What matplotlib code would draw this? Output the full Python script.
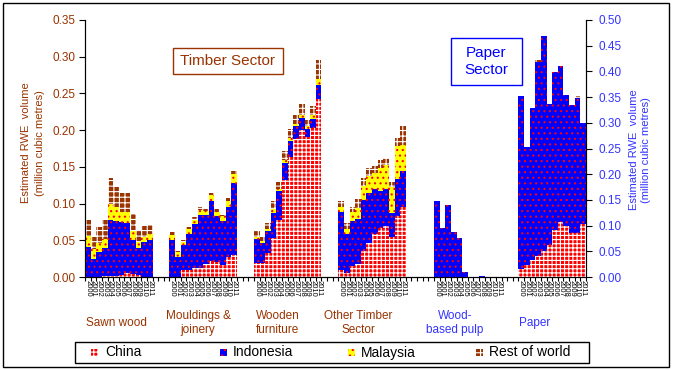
import numpy as np
import matplotlib.pyplot as plt
from matplotlib.patches import Rectangle

plt.rcParams['font.family'] = ['Liberation Sans', 'DejaVu Sans']
plt.rcParams['hatch.linewidth'] = 0.8

# Data (million cubic metres RWE), one row of 12 years per sector
years = [str(y) for y in range(2000, 2012)]
series = ['China', 'Indonesia', 'Malaysia', 'Rest of world']
sectors = ['Sawn wood', 'Mouldings &\njoinery', 'Wooden\nfurniture',
           'Other Timber\nSector', 'Wood-\nbased pulp', 'Paper']

china = [
    [0, 0, 0, 0.001, 0.002, 0.002, 0.003, 0.005, 0.004, 0.003, 0, 0],
    [0, 0, 0.009, 0.009, 0.012, 0.012, 0.018, 0.022, 0.020, 0.017, 0.027, 0.030],
    [0.019, 0.019, 0.033, 0.053, 0.078, 0.132, 0.164, 0.188, 0.200, 0.191, 0.203, 0.242],
    [0.010, 0.006, 0.015, 0.018, 0.035, 0.046, 0.059, 0.067, 0.070, 0.055, 0.083, 0.096],
    [0, 0, 0, 0, 0, 0, 0, 0, 0, 0, 0, 0],
    [0.016, 0.024, 0.033, 0.040, 0.050, 0.062, 0.092, 0.107, 0.099, 0.085, 0.085, 0.104],
]
indonesia = [
    [0.041, 0.025, 0.034, 0.038, 0.076, 0.074, 0.072, 0.069, 0.047, 0.036, 0.047, 0.051],
    [0.050, 0.027, 0.034, 0.050, 0.060, 0.072, 0.066, 0.081, 0.063, 0.059, 0.068, 0.098],
    [0.033, 0.027, 0.029, 0.034, 0.039, 0.023, 0.021, 0.017, 0.017, 0.011, 0.012, 0.020],
    [0.078, 0.053, 0.061, 0.061, 0.070, 0.068, 0.061, 0.050, 0.050, 0.032, 0.050, 0.049],
    [0.147, 0.096, 0.141, 0.088, 0.075, 0.010, 0, 0, 0.0025, 0, 0, 0],
    [0.336, 0.228, 0.295, 0.379, 0.419, 0.274, 0.307, 0.303, 0.255, 0.249, 0.264, 0.195],
]
malaysia = [
    [0.015, 0.013, 0.012, 0.013, 0.021, 0.019, 0.014, 0.015, 0.011, 0.008, 0.008, 0.007],
    [0.007, 0.007, 0.005, 0.007, 0.006, 0.007, 0.006, 0.009, 0.006, 0.007, 0.008, 0.012],
    [0.003, 0.003, 0.004, 0.005, 0.003, 0.005, 0.004, 0.004, 0.003, 0.003, 0.005, 0.008],
    [0.008, 0.006, 0.012, 0.015, 0.019, 0.023, 0.022, 0.032, 0.033, 0.036, 0.046, 0.035],
    [0, 0, 0, 0, 0, 0, 0, 0, 0, 0, 0, 0],
    [0, 0, 0, 0, 0, 0, 0, 0, 0, 0, 0, 0],
]
rest = [
    [0.021, 0.017, 0.022, 0.026, 0.036, 0.027, 0.025, 0.025, 0.024, 0.015, 0.015, 0.013],
    [0.004, 0.001, 0.002, 0.002, 0.004, 0.004, 0.002, 0.003, 0.004, 0.002, 0.005, 0.004],
    [0.008, 0.006, 0.008, 0.011, 0.010, 0.011, 0.012, 0.012, 0.016, 0.010, 0.013, 0.025],
    [0.008, 0.009, 0.007, 0.012, 0.011, 0.012, 0.009, 0.010, 0.009, 0.007, 0.010, 0.025],
    [0, 0, 0, 0, 0, 0, 0, 0, 0, 0, 0, 0],
    [0, 0, 0, 0.003, 0, 0, 0, 0, 0, 0, 0.003, 0],
]
data = [china, indonesia, malaysia, rest]

# styles
face = ['#ff0000', '#0000ff', '#ffff00', '#993300']
hatchc = ['#ffffff', '#ff0000', '#ff0000', '#ffffff']
hatches = ['++++', '...', '...', '+++']
brown = '#993300'
blue = '#3333ff'

W, H = 673, 370
fx = lambda px: px / W
fy = lambda py: 1 - py / H

fig = plt.figure(figsize=(6.73, 3.70), dpi=100, facecolor='w')
ax = fig.add_axes([fx(85), fy(277), (586 - 85) / W, (277 - 20) / H])
ax2 = ax.twinx()

group_start = [0, 15, 30, 45, 62, 77]
on_right = [False, False, False, False, True, True]

centers = []
for g in range(len(sectors)):
    target = ax2 if on_right[g] else ax
    x = group_start[g] + np.arange(12)
    centers += list(x + 0.5)
    bottom = np.zeros(12)
    for s in range(len(series)):
        h = np.array(data[s][g], dtype=float)
        target.bar(x, h, width=1.0, bottom=bottom, align='edge',
                   color=face[s], edgecolor=hatchc[s], hatch=hatches[s],
                   linewidth=0)
        bottom += h

# axes limits and ticks
ax.set_xlim(0, 89)
ax.set_ylim(0, 0.35)
ax2.set_ylim(0, 0.5)
ax.set_xticks(np.arange(0, 90))
ax.set_xticklabels([])
ax.set_xticks(centers, labels=years * len(sectors), minor=True)
ax.tick_params(axis='x', which='major', length=3, direction='out')
ax.tick_params(axis='x', which='minor', length=0, labelsize=5.5,
               labelrotation=270, pad=2)
ax.set_yticks(np.arange(0, 0.351, 0.05))
ax.set_yticklabels(['%.2f' % v for v in np.arange(0, 0.351, 0.05)])
ax.tick_params(axis='y', length=4, labelsize=8.5, labelcolor=brown, pad=3)
ax2.set_yticks(np.arange(0, 0.501, 0.05))
ax2.set_yticklabels(['%.2f' % v for v in np.arange(0, 0.501, 0.05)])
ax2.tick_params(axis='y', length=4, labelsize=8.5, labelcolor=blue, pad=5)
for a in (ax, ax2):
    a.spines['top'].set_visible(False)
    a.set_facecolor('none')

# axis titles
fig.text(fx(33), fy(143), 'Estimated RWE  volume\n(million cubic metres)',
         rotation=90, ha='center', va='center', color=brown, fontsize=8,
         linespacing=1.6)
fig.text(fx(640), fy(150), 'Estimated RWE  volume\n(million cubic metres)',
         rotation=90, ha='center', va='center', color=blue, fontsize=8,
         linespacing=1.3)

# sector labels under the groups
label_x = [116, 198, 278, 358, 455, 535]
for name, lx, right in zip(sectors, label_x, on_right):
    fig.text(fx(lx), fy(323), name, ha='center', va='center',
             fontsize=8.5, color=blue if right else brown, linespacing=1.3)

# sector boxes
fig.patches.append(Rectangle((fx(173), fy(74)), (283 - 173) / W, (74 - 48) / H,
                             transform=fig.transFigure, fill=False,
                             edgecolor=brown, linewidth=1))
fig.text(fx(228), fy(61), 'Timber Sector', ha='center', va='center',
         fontsize=11, color=brown)
fig.patches.append(Rectangle((fx(451), fy(85)), (522 - 451) / W, (85 - 38) / H,
                             transform=fig.transFigure, fill=False,
                             edgecolor='#0000ff', linewidth=1))
fig.text(fx(486.5), fy(61.5), 'Paper\nSector', ha='center', va='center',
         fontsize=11, color='#0000ff', linespacing=1.2)

# legend drawn by hand (evenly spaced entries)
fig.patches.append(Rectangle((fx(75), fy(363)), (589 - 75) / W, 21 / H,
                             transform=fig.transFigure, fill=False,
                             edgecolor='black', linewidth=1))
for i, name in enumerate(series):
    hx = 95 + i * 128
    fig.patches.append(Rectangle((fx(hx - 3.5), fy(356)), 7 / W, 7 / H,
                                 transform=fig.transFigure,
                                 facecolor=face[i], edgecolor=hatchc[i],
                                 hatch=hatches[i], linewidth=0))
    fig.text(fx(hx + 10), fy(352.5), name, ha='left', va='center',
             fontsize=10, color='black')

# outer border
fig.patches.append(Rectangle((fx(3), fy(367)), (669 - 3) / W, (367 - 3) / H,
                             transform=fig.transFigure, fill=False,
                             edgecolor='black', linewidth=1))

fig.savefig('out.png', dpi=100)
